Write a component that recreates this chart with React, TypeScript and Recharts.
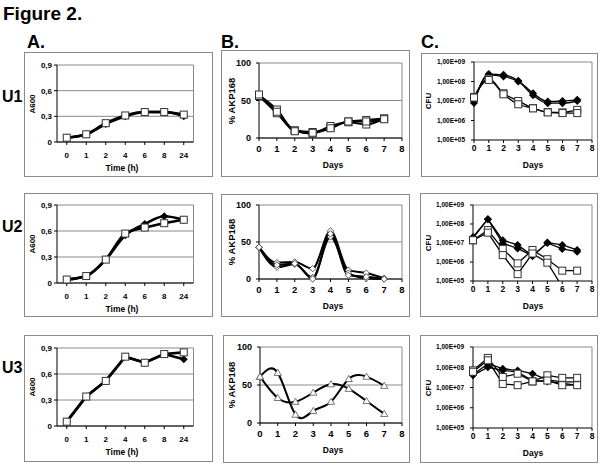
import React from 'react';
import { CartesianGrid, Line, LineChart, XAxis, YAxis } from 'recharts';

const FONT = '"Liberation Sans", Arial, Helvetica, sans-serif';

// x axes
const timeLabels = ['0', '1', '2', '4', '6', '8', '24'];
const dayValues = [0, 1, 2, 3, 4, 5, 6, 7];
const dayTicks = [0, 1, 2, 3, 4, 5, 6, 7, 8];

// y ticks
const a600Ticks = [0, 0.3, 0.6, 0.9];
const akpTicks = [0, 50, 100];
const cfuTicks = [1e5, 1e6, 1e7, 1e8, 1e9];

// column A - A600 vs time (h)
const u1A600Filled = [0.05, 0.09, 0.21, 0.3, 0.35, 0.35, 0.3];
const u1A600Open = [0.05, 0.09, 0.22, 0.31, 0.35, 0.35, 0.32];
const u2A600Filled = [0.04, 0.08, 0.27, 0.55, 0.68, 0.77, 0.73];
const u2A600Open = [0.04, 0.08, 0.27, 0.57, 0.64, 0.69, 0.73];
const u3A600Filled = [0.05, 0.34, 0.52, 0.8, 0.73, 0.83, 0.77];
const u3A600Open = [0.05, 0.34, 0.52, 0.8, 0.73, 0.83, 0.85];

// column B - % AKP168 vs days
const u1AkpA = [57, 38, 10, 8, 14, 22, 24, 26];
const u1AkpB = [56, 33, 10, 6, 16, 21, 18, 26];
const u1AkpC = [58, 35, 9, 7, 13, 22, 22, 25];
const u2AkpA = [43, 22, 23, 14, 65, 12, 8, 1];
const u2AkpB = [43, 16, 20, 2, 57, 8, 1, 0];
const u2AkpC = [43, 19, 21, 0, 61, 5, 3, 0];
const u3AkpA = [61, 66, 11, 16, 28, 58, 61, 49];
const u3AkpB = [61, 33, 28, 40, 51, 45, 29, 12];

// column C - CFU vs days (log)
const u1CfuFilledA = [1.0e7, 2.4e8, 2.2e8, 1.1e8, 2.5e7, 9.4e6, 1.0e7, 1.15e7];
const u1CfuFilledB = [8e6, 2.2e8, 1.8e8, 1.0e8, 2.0e7, 7.7e6, 7.7e6, 1.0e7];
const u1CfuOpenA = [1.6e7, 1.4e8, 2.5e7, 1.0e7, 4.3e6, 2.7e6, 2.6e6, 3.5e6];
const u1CfuOpenB = [1.5e7, 1.2e8, 2.2e7, 6.8e6, 4.2e6, 2.6e6, 2.4e6, 2.4e6];
const u2CfuFilledA = [2.1e7, 1.8e8, 1.4e7, 7.9e6, 2.1e6, 1.05e7, 7.9e6, 4.3e6];
const u2CfuFilledB = [1.8e7, 1.8e8, 9.6e6, 5.2e6, 2.1e6, 1.0e7, 4.9e6, 3.5e6];
const u2CfuOpenA = [1.4e7, 4.8e7, 4.9e6, 8.5e5, 4.3e6, 1.4e6, 3.5e5, 3.5e5];
const u2CfuOpenB = [1.4e7, 3.5e7, 2.3e6, 2.3e5, 2.8e6, 9.2e5, 5e4, null];
const u3CfuFilledA = [4.3e7, 1.5e8, 8.5e7, 7e7, 4.8e7, 2.4e7, 1.9e7, 1.9e7];
const u3CfuFilledB = [4.0e7, 1.0e8, 7e7, 5.8e7, 2.2e7, 2.0e7, 1.6e7, 1.3e7];
const u3CfuOpenA = [7e7, 2.9e8, 3.3e7, 4.8e7, 2.0e7, 4e7, 3e7, 3e7];
const u3CfuOpenB = [6e7, 2.2e8, 1.5e7, 1.3e7, 2.0e7, 2.2e7, 1.3e7, 1.3e7];

type Kind = 'diamond' | 'square' | 'openDiamond' | 'triangle';
type Series = { values: (number | null)[]; kind: Kind };
type Col = 'A' | 'B' | 'C';
type Box = { x: number; y: number; w: number; h: number };
type Plot = { l: number; t: number; r: number; b: number };

function Marker({ cx, cy, kind }: { cx: number; cy: number; kind: Kind }) {
  if (kind === 'diamond') {
    return <polygon points={`${cx},${cy - 4} ${cx + 4},${cy} ${cx},${cy + 4} ${cx - 4},${cy}`} fill="#000" />;
  }
  if (kind === 'square') {
    return <rect x={cx - 3.5} y={cy - 3.5} width={7} height={7} fill="#fff" stroke="#333" strokeWidth={1} />;
  }
  if (kind === 'openDiamond') {
    return (
      <polygon
        points={`${cx},${cy - 3.2} ${cx + 3.2},${cy} ${cx},${cy + 3.2} ${cx - 3.2},${cy}`}
        fill="#fff"
        stroke="#333"
        strokeWidth={0.8}
      />
    );
  }
  return (
    <polygon
      points={`${cx},${cy - 3.5} ${cx + 3.6},${cy + 2.6} ${cx - 3.6},${cy + 2.6}`}
      fill="#fff"
      stroke="#555"
      strokeWidth={0.8}
    />
  );
}

const fmtA600 = (v: number) => (v === 0 ? '0' : v.toFixed(1).replace('.', ','));
const fmtCfu = (v: number) => `1,00E+${String(Math.round(Math.log10(v))).padStart(2, '0')}`;

type PanelProps = {
  col: Col;
  frame: Box;
  plot: Plot;
  series: Series[];
  curve?: 'monotone' | 'natural' | 'linear';
  lineWidth: number;
};

function Panel({ col, frame, plot, series, curve = 'monotone', lineWidth }: PanelProps) {
  const xs: (string | number)[] = col === 'A' ? timeLabels : dayValues;
  const data = xs.map((x, i) => {
    const row: Record<string, string | number | null> = { x };
    series.forEach((s, j) => {
      row['s' + j] = s.values[i] ?? null;
    });
    return row;
  });

  const top = plot.t - frame.y;
  const right = frame.x + frame.w - plot.r;
  const yWidth = plot.l - frame.x;
  const xHeight = frame.y + frame.h - plot.b;
  const band = (plot.r - plot.l) / timeLabels.length;

  const tickFont = { fontFamily: FONT, fontWeight: 700, fill: '#000' };
  const gridExtra = col === 'C' ? { horizontalPoints: [top] } : {};

  return (
    <>
      <div
        style={{
          position: 'absolute',
          left: frame.x,
          top: frame.y,
          width: frame.w,
          height: frame.h,
          border: '1px solid #8a8a8a',
          boxSizing: 'border-box',
        }}
      />
      <div style={{ position: 'absolute', left: frame.x, top: frame.y }}>
        <LineChart width={frame.w} height={frame.h} data={data} margin={{ top, right, bottom: 0, left: 0 }}>
          <CartesianGrid stroke="#8a8a8a" strokeWidth={1} verticalPoints={[plot.r - frame.x]} {...gridExtra} />
          {col === 'A' ? (
            <XAxis
              dataKey="x"
              type="category"
              height={xHeight}
              padding={{ left: band / 2, right: band / 2 }}
              interval={0}
              tick={{ ...tickFont, fontSize: 8 }}
              tickSize={3}
              tickMargin={7}
              axisLine={{ stroke: '#000' }}
              tickLine={{ stroke: '#000' }}
            />
          ) : (
            <XAxis
              dataKey="x"
              type="number"
              domain={[0, 8]}
              ticks={dayTicks}
              interval={0}
              height={xHeight}
              tick={{ ...tickFont, fontSize: col === 'B' ? 9.5 : 8.5 }}
              tickSize={3}
              tickMargin={col === 'B' ? 4 : 2}
              axisLine={{ stroke: '#000' }}
              tickLine={{ stroke: '#000' }}
            />
          )}
          {col === 'A' && (
            <YAxis
              type="number"
              domain={[0, 0.9]}
              ticks={a600Ticks}
              interval={0}
              width={yWidth}
              tickFormatter={fmtA600}
              tick={{ ...tickFont, fontSize: 8 }}
              tickSize={3}
              tickMargin={2}
              axisLine={{ stroke: '#000' }}
              tickLine={{ stroke: '#000' }}
            />
          )}
          {col === 'B' && (
            <YAxis
              type="number"
              domain={[0, 100]}
              ticks={akpTicks}
              interval={0}
              width={yWidth}
              tick={{ ...tickFont, fontSize: 9 }}
              tickSize={3}
              tickMargin={5}
              axisLine={{ stroke: '#000' }}
              tickLine={{ stroke: '#000' }}
            />
          )}
          {col === 'C' && (
            <YAxis
              type="number"
              scale="log"
              domain={[1e5, 1e9]}
              allowDataOverflow
              ticks={cfuTicks}
              interval={0}
              width={yWidth}
              tickFormatter={fmtCfu}
              tick={{ ...tickFont, fontSize: 6.5 }}
              tickSize={3}
              tickMargin={6}
              axisLine={{ stroke: '#000' }}
              tickLine={{ stroke: '#000' }}
            />
          )}
          {series.map((s, j) => (
            <Line
              key={j}
              type={curve}
              dataKey={'s' + j}
              stroke="#000"
              strokeWidth={lineWidth}
              connectNulls={false}
              activeDot={false}
              isAnimationActive={false}
              dot={(p: any) =>
                p.cx == null || p.cy == null || p.value == null ? (
                  <g key={`d${j}-${p.index}`} />
                ) : (
                  <Marker key={`d${j}-${p.index}`} cx={p.cx} cy={p.cy} kind={s.kind} />
                )
              }
            />
          ))}
        </LineChart>
      </div>
    </>
  );
}

function Txt({
  x,
  y,
  size,
  rotate = false,
  children,
}: {
  x: number;
  y: number;
  size: number;
  rotate?: boolean;
  children: React.ReactNode;
}) {
  return (
    <div
      style={{
        position: 'absolute',
        left: x,
        top: y,
        fontSize: size,
        fontWeight: 700,
        lineHeight: 1,
        whiteSpace: 'nowrap',
        transform: `translate(-50%, -50%)${rotate ? ' rotate(-90deg)' : ''}`,
      }}
    >
      {children}
    </div>
  );
}

function Head({ x, y, size, children }: { x: number; y: number; size: number; children: React.ReactNode }) {
  return (
    <div style={{ position: 'absolute', left: x, top: y, fontSize: size, fontWeight: 700, lineHeight: 1, whiteSpace: 'nowrap' }}>
      {children}
    </div>
  );
}

const aFrames: Box[] = [
  { x: 24, y: 52, w: 189, h: 125 },
  { x: 24, y: 193, w: 189, h: 124 },
  { x: 24, y: 335, w: 189, h: 127 },
];
const aPlots: Plot[] = [
  { l: 57, t: 65, r: 193.5, b: 142 },
  { l: 57, t: 205, r: 193.5, b: 283 },
  { l: 57, t: 348, r: 193.5, b: 426 },
];
const bFrames: Box[] = [
  { x: 221, y: 50, w: 189, h: 127 },
  { x: 221, y: 194, w: 189, h: 123 },
  { x: 223, y: 335, w: 187, h: 128 },
];
const bPlots: Plot[] = [
  { l: 259, t: 63, r: 402, b: 138 },
  { l: 259, t: 205, r: 402, b: 279 },
  { l: 260, t: 347, r: 402, b: 423 },
];
const cFrames: Box[] = [
  { x: 421, y: 53, w: 177, h: 124 },
  { x: 420, y: 193, w: 178, h: 124 },
  { x: 420, y: 335, w: 178, h: 128 },
];
const cPlots: Plot[] = [
  { l: 474, t: 62, r: 592, b: 140 },
  { l: 473, t: 205, r: 592, b: 281 },
  { l: 473, t: 347, r: 592, b: 428 },
];

const rowNames = ['U1', 'U2', 'U3'];
const rowNameTops = [88.6, 218.6, 359.6];

export default function App() {
  const aSeries: Series[][] = [
    [
      { values: u1A600Filled, kind: 'diamond' },
      { values: u1A600Open, kind: 'square' },
    ],
    [
      { values: u2A600Filled, kind: 'diamond' },
      { values: u2A600Open, kind: 'square' },
    ],
    [
      { values: u3A600Filled, kind: 'diamond' },
      { values: u3A600Open, kind: 'square' },
    ],
  ];
  const bSeries: Series[][] = [
    [
      { values: u1AkpA, kind: 'square' },
      { values: u1AkpB, kind: 'square' },
      { values: u1AkpC, kind: 'square' },
    ],
    [
      { values: u2AkpA, kind: 'openDiamond' },
      { values: u2AkpB, kind: 'openDiamond' },
      { values: u2AkpC, kind: 'openDiamond' },
    ],
    [
      { values: u3AkpA, kind: 'triangle' },
      { values: u3AkpB, kind: 'triangle' },
    ],
  ];
  const cSeries: Series[][] = [
    [
      { values: u1CfuFilledA, kind: 'diamond' },
      { values: u1CfuFilledB, kind: 'diamond' },
      { values: u1CfuOpenA, kind: 'square' },
      { values: u1CfuOpenB, kind: 'square' },
    ],
    [
      { values: u2CfuFilledA, kind: 'diamond' },
      { values: u2CfuFilledB, kind: 'diamond' },
      { values: u2CfuOpenA, kind: 'square' },
      { values: u2CfuOpenB, kind: 'square' },
    ],
    [
      { values: u3CfuFilledA, kind: 'diamond' },
      { values: u3CfuFilledB, kind: 'diamond' },
      { values: u3CfuOpenA, kind: 'square' },
      { values: u3CfuOpenB, kind: 'square' },
    ],
  ];

  return (
    <div
      style={{
        position: 'absolute',
        left: 0,
        top: 0,
        width: 600,
        height: 465,
        background: '#fff',
        fontFamily: FONT,
        color: '#000',
        overflow: 'hidden',
      }}
    >
      <Head x={3} y={4.2} size={19}>Figure 2.</Head>
      <Head x={27} y={32.6} size={18}>A.</Head>
      <Head x={221} y={32.6} size={18}>B.</Head>
      <Head x={421} y={32.6} size={18}>C.</Head>
      {rowNames.map((n, i) => (
        <Head key={n} x={2} y={rowNameTops[i]} size={16}>
          {n}
        </Head>
      ))}

      {[0, 1, 2].map((i) => (
        <React.Fragment key={i}>
          <Panel col="A" frame={aFrames[i]} plot={aPlots[i]} series={aSeries[i]} curve={i === 2 ? 'linear' : 'monotone'} lineWidth={2.6} />
          <Panel col="B" frame={bFrames[i]} plot={bPlots[i]} series={bSeries[i]} curve={i === 2 ? 'natural' : 'monotone'} lineWidth={2} />
          <Panel col="C" frame={cFrames[i]} plot={cPlots[i]} series={cSeries[i]} curve={i === 0 ? 'monotone' : 'linear'} lineWidth={1.3} />

          <Txt x={32.5} y={(aPlots[i].t + aPlots[i].b) / 2} size={8} rotate>A600</Txt>
          <Txt x={122} y={aPlots[i].b + 26} size={8.5}>Time (h)</Txt>
          <Txt x={232} y={(bPlots[i].t + bPlots[i].b) / 2} size={9.5} rotate>% AKP168</Txt>
          <Txt x={333} y={bPlots[i].b + 27} size={8.5}>Days</Txt>
          <Txt x={429} y={(cPlots[i].t + cPlots[i].b) / 2} size={8} rotate>CFU</Txt>
          <Txt x={533} y={cPlots[i].b + 25} size={8.5}>Days</Txt>
        </React.Fragment>
      ))}
    </div>
  );
}
